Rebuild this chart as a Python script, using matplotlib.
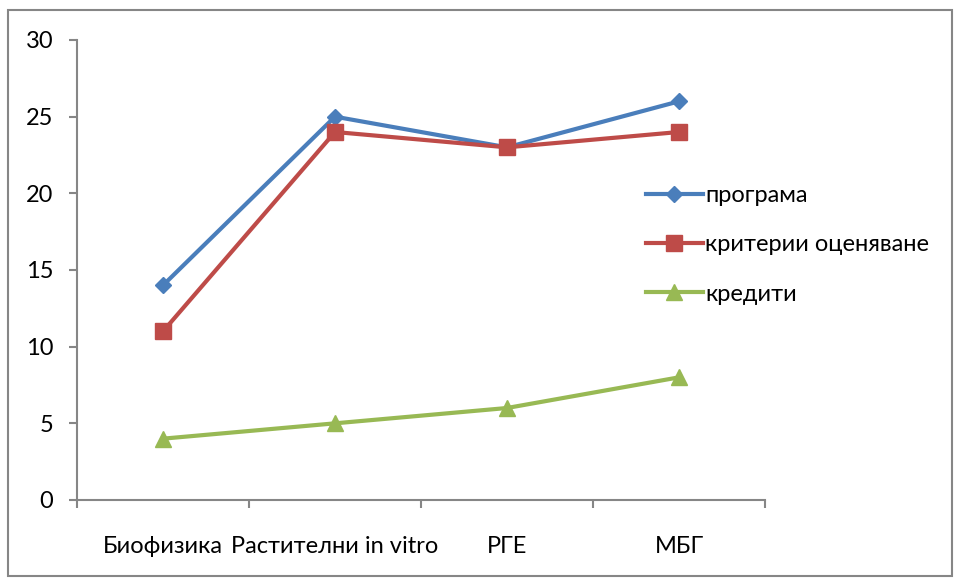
import numpy as np
import matplotlib.pyplot as plt
from matplotlib.patches import Rectangle

# Datos
categories = ["Биофизика", "Растителни in vitro", "РГЕ", "МБГ"]
programa = [14, 25, 23, 26]
kriterii = [11, 24, 23, 24]
krediti = [4, 5, 6, 8]
series_names = ["програма", "критерии оценяване", "кредити"]

plt.rcParams['font.family'] = ['Lato', 'DejaVu Sans']

fig = plt.figure(figsize=(9.55, 5.78), dpi=100)
ax = fig.add_axes([77/955, 1 - 500/578, (765 - 77)/955, (500 - 40)/578])

x = np.arange(len(categories))
ax.plot(x, programa, color='#4A7EBB', lw=3, marker='D', ms=8, label=series_names[0])
ax.plot(x, kriterii, color='#BE4B48', lw=3, marker='s', ms=11, label=series_names[1])
ax.plot(x, krediti, color='#98B954', lw=3, marker='^', ms=12, label=series_names[2])

ax.set_xlim(-0.5, 3.5)
ax.set_ylim(0, 30)
ax.set_yticks(range(0, 31, 5))
ax.set_xticks(x)
ax.set_xticklabels(categories)
ax.set_xticks(np.arange(-0.5, 4, 1), minor=True)
ax.tick_params(axis='x', which='major', length=0, pad=26, labelsize=17)
ax.tick_params(axis='x', which='minor', length=6, color='#868686', width=1.5)
ax.tick_params(axis='y', length=6, color='#868686', width=1.5, pad=11, labelsize=17)

for s in ['top', 'right']:
    ax.spines[s].set_visible(False)
for s in ['left', 'bottom']:
    ax.spines[s].set_color('#868686')
    ax.spines[s].set_linewidth(1.5)

ax.legend(loc='upper left', bbox_to_anchor=(646/955, 1 - 185/578), bbox_transform=fig.transFigure,
          frameon=False, fontsize=17, handlelength=2.4, handletextpad=0.1, labelspacing=1.2,
          borderaxespad=0, borderpad=0)

# Marco exterior
fig.patches.append(Rectangle((8/955, 2/578), 944/955, 566/578, transform=fig.transFigure,
                             fill=False, edgecolor='#868686', lw=1.5))

fig.savefig('out.png', dpi=100)
